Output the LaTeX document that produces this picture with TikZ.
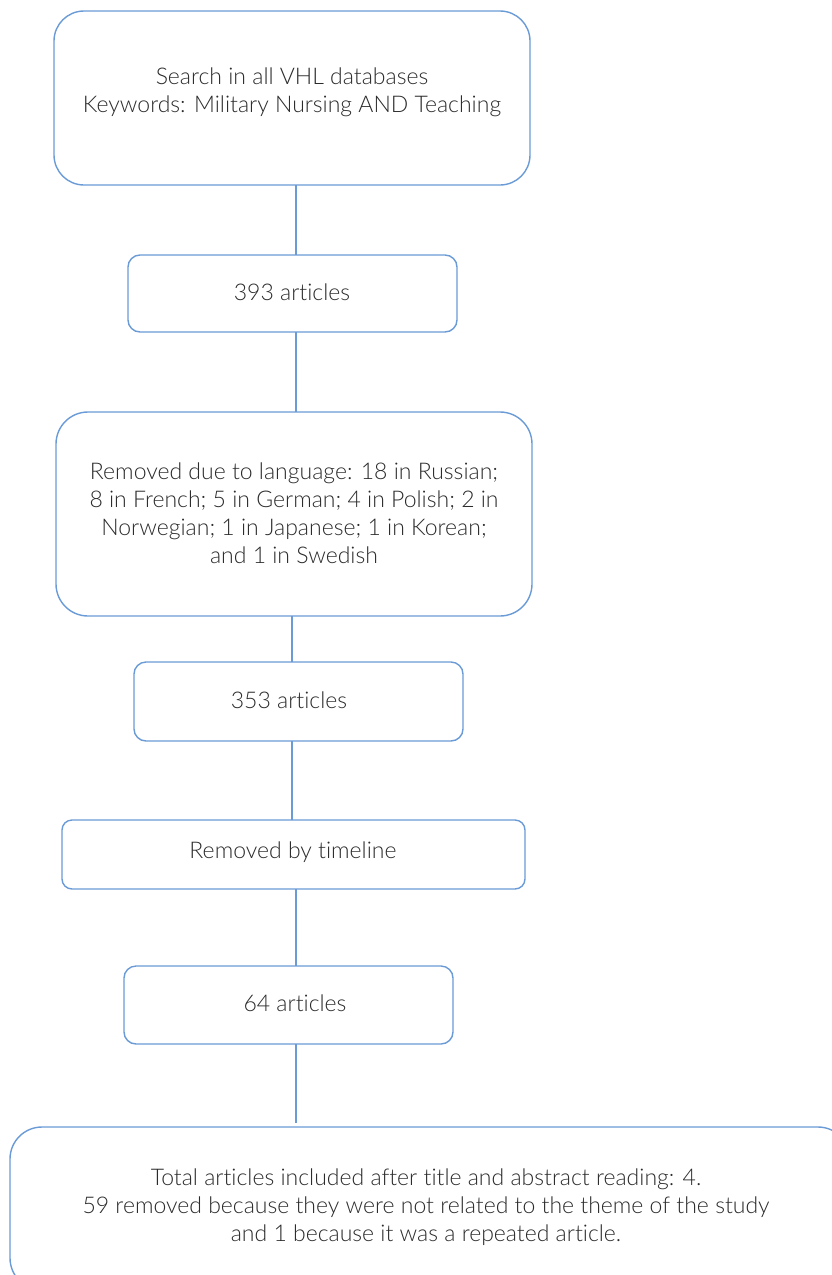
\documentclass[tikz,border=0pt]{standalone}
\usepackage{fontspec}
\setmainfont{Lato}[UprightFont=* Light,Ligatures=NoCommon]
\begin{document}
\begin{tikzpicture}[x=1pt,y=-1pt,
  bx/.style={draw=boxblue,line width=1.4pt,fill=white},
  ln/.style={draw=boxblue,line width=1.1pt},
  txt/.style={text=txtgray,font=\fontsize{23}{28}\selectfont,align=center}]
\definecolor{boxblue}{HTML}{6A9BD6}
\definecolor{txtgray}{HTML}{2B2B2B}
\useasboundingbox (0,0) rectangle (832,1275);
\clip (0,0) rectangle (832,1275);
% boxes
\draw[bx,rounded corners=30] (54,11) rectangle (530,185);
\node[txt] (b1) at (292,92) {Search in all VHL databases\\Keywords: Military Nursing AND Teaching};
\draw[bx,rounded corners=12] (128,255) rectangle (457,332);
\node[txt] (b2) at (292,292) {393 articles};
\draw[bx,rounded corners=32] (56,412) rectangle (532,616);
\node[txt] (b3) at (294,513) {Removed due to language: 18 in Russian;\\8 in French; 5 in German; 4 in Polish; 2 in\\Norwegian; 1 in Japanese; 1 in Korean;\\and 1 in Swedish};
\draw[bx,rounded corners=12] (134,662) rectangle (463,741);
\node[txt] (b4) at (289,700) {353 articles};
\draw[bx,rounded corners=10] (62,820) rectangle (525,889);
\node[txt] (b5) at (293,852) {Removed by timeline};
\draw[bx,rounded corners=12] (124,966) rectangle (453,1044);
\node[txt] (b6) at (295,1003) {64 articles};
\draw[bx,rounded corners=32] (10,1127) rectangle (850,1290);
\node[txt] (b7) at (426,1207) {Total articles included after title and abstract reading: 4.\\59 removed because they were not related to the theme of the study\\and 1 because it was a repeated article.};
% connectors
\coordinate (c1a) at (296,185); \coordinate (c1b) at (296,255);
\coordinate (c2a) at (296,332); \coordinate (c2b) at (296,412);
\coordinate (c3a) at (292,616); \coordinate (c3b) at (292,662);
\coordinate (c4a) at (292,741); \coordinate (c4b) at (292,820);
\coordinate (c5a) at (296,889); \coordinate (c5b) at (296,966);
\coordinate (c6a) at (296,1044); \coordinate (c6b) at (296,1123);
\draw[ln] (c1a) -- (c1b);
\draw[ln] (c2a) -- (c2b);
\draw[ln] (c3a) -- (c3b);
\draw[ln] (c4a) -- (c4b);
\draw[ln] (c5a) -- (c5b);
\draw[ln] (c6a) -- (c6b);
\end{tikzpicture}
\end{document}
